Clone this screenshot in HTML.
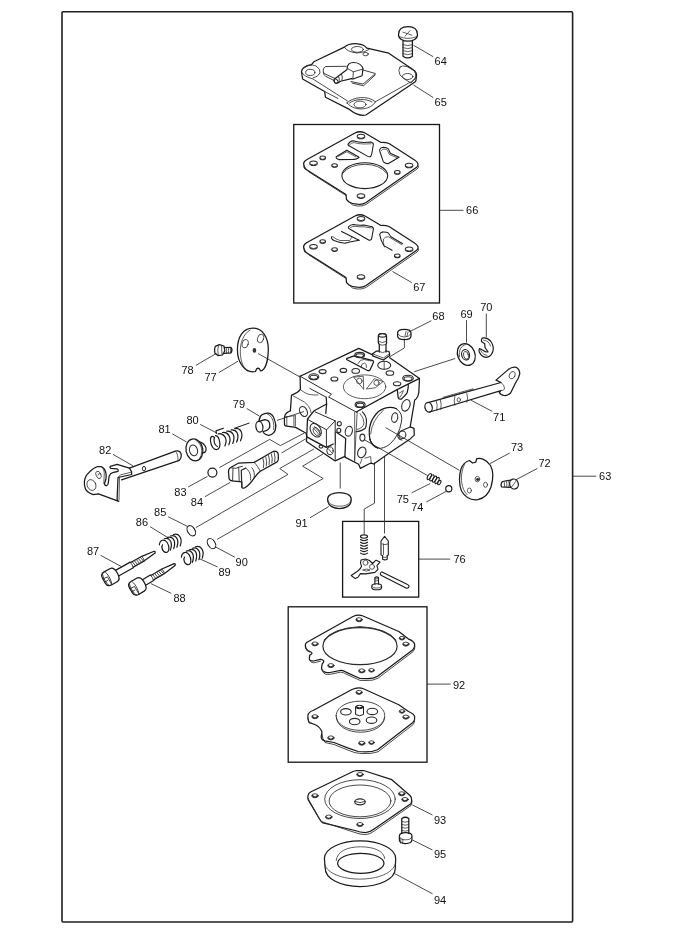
<!DOCTYPE html>
<html><head><meta charset="utf-8"><style>
html,body{margin:0;padding:0;background:#fff;width:680px;height:935px;overflow:hidden}
svg{display:block}
text{font-family:"Liberation Sans",sans-serif;font-size:11px;fill:#111}
.lbl{will-change:transform}
</style></head><body>
<svg width="680" height="935" viewBox="0 0 680 935">
<g fill="none" stroke="#1e1e1e" stroke-width="1.6" stroke-linejoin="round">
<rect x="62" y="11.7" width="510.6" height="910.3" rx="1"/>
</g>
<g fill="none" stroke="#151515" stroke-width="1.3">
<rect x="293.75" y="124.5" width="145.75" height="178.5"/>
<rect x="342.6" y="521.4" width="76.1" height="75.7"/>
<rect x="288.2" y="606.8" width="138.8" height="155.4"/>
</g>
<g fill="none" stroke="#2a2a2a" stroke-width="0.85">
<line x1="413.5" y1="45.3" x2="433.2" y2="56.7"/>
<line x1="413.5" y1="85" x2="433.2" y2="97.5"/>
<line x1="439.5" y1="210.3" x2="463.5" y2="210.3"/>
<line x1="392.5" y1="271.5" x2="411.8" y2="282.6"/>
<line x1="431.4" y1="320.7" x2="408.9" y2="332"/>
<line x1="466.5" y1="320.1" x2="466.5" y2="342.6"/>
<line x1="486.3" y1="313.5" x2="486.3" y2="337.3"/>
<line x1="455.2" y1="358.5" x2="414.2" y2="371.7"/>
<line x1="492.3" y1="411.4" x2="471.1" y2="400.3"/>
<line x1="537.4" y1="468.4" x2="514.9" y2="480.3"/>
<line x1="509.6" y1="453.1" x2="489.8" y2="463.7"/>
<line x1="385.6" y1="427.6" x2="459.4" y2="470.3"/>
<line x1="363.8" y1="439.4" x2="427.6" y2="475.6"/>
<line x1="411.7" y1="492.8" x2="430.3" y2="483.5"/>
<line x1="426.3" y1="502" x2="446.1" y2="491.4"/>
<line x1="418.7" y1="559.1" x2="450.2" y2="559.1"/>
<line x1="218.9" y1="372.5" x2="238" y2="361.2"/>
<line x1="258" y1="353.5" x2="300" y2="377"/>
<line x1="195.8" y1="365.4" x2="216.3" y2="353.5"/>
<line x1="246.7" y1="408.5" x2="259.4" y2="416.1"/>
<line x1="277.1" y1="420.4" x2="303.9" y2="411.5"/>
<line x1="200.2" y1="424.4" x2="216.4" y2="432.8"/>
<line x1="172.3" y1="433.8" x2="186.6" y2="442"/>
<line x1="113" y1="454.4" x2="133.1" y2="465.9"/>
<line x1="188.1" y1="487" x2="207.5" y2="476.4"/>
<line x1="205.1" y1="496.6" x2="230.2" y2="482.4"/>
<line x1="168.1" y1="516.7" x2="187.1" y2="526.2"/>
<line x1="150.1" y1="526.7" x2="167.3" y2="537.3"/>
<line x1="100.6" y1="555.3" x2="121" y2="566.4"/>
<line x1="171.3" y1="593.4" x2="150.9" y2="583.6"/>
<line x1="217.6" y1="567" x2="199" y2="558.5"/>
<line x1="234.8" y1="557.2" x2="214.9" y2="546.6"/>
<line x1="310" y1="517.8" x2="328.8" y2="506.5"/>
<line x1="427" y1="684.1" x2="450.6" y2="684.1"/>
<line x1="432.5" y1="815" x2="412.5" y2="805"/>
<line x1="432.5" y1="893.75" x2="395" y2="873.75"/>
<line x1="432.5" y1="850" x2="412.5" y2="840"/>
<line x1="572.6" y1="476.2" x2="596.3" y2="476.2"/>
<line x1="281.5" y1="453" x2="305.6" y2="438.9"/>
<line x1="340.2" y1="462.6" x2="340.2" y2="488.5"/>
<polyline points="219.4,467.6 269.7,439.4 280.3,445.6 304.4,433"/>
<polyline points="195.9,527.6 288,474.4 279.7,468.5 313.8,449.1"/>
<polyline points="217.1,539.4 323.2,478.5 302.6,466.2 323.2,453.8"/>
<polyline points="404.4,338.7 404.4,347.9 389.1,357.2"/>
<polyline points="374.5,462.5 374.5,503.2 364.2,509.1 364.2,534"/>
<polyline points="384.5,456 384.5,533.5"/>
</g>
<style>.o{fill:none;stroke:#1a1a1a;stroke-width:1.25;stroke-linejoin:round;stroke-linecap:round}.t{fill:none;stroke:#2a2a2a;stroke-width:0.75;stroke-linecap:round}.w{fill:#fff}</style><g transform="translate(0 1.2)"><!-- 64 screw -->
<g class="o">
<path d="M398.5,33.5 C398.5,27.5 403,25.5 408,25.5 C413,25.5 417.5,27.5 417.5,33.5 C417.5,37.5 413,40 408,40 C403,40 398.5,37.5 398.5,33.5 Z"/>
<path d="M403,40 L403,55 Q407.7,58.5 412.4,55 L412.4,40"/>
</g>
<g class="t">
<path d="M399.5,35.5 Q408,39 416.5,35.5"/>
<path d="M403,31 L412,34 M405,35 L410,29.5"/>
<path d="M403,43.5 Q407.7,45.5 412.4,43.5 M403,46.5 Q407.7,48.5 412.4,46.5 M403,49.5 Q407.7,51.5 412.4,49.5 M403,52.5 Q407.7,54.5 412.4,52.5"/>
</g>
</g>
<!-- 65 cover -->
<g class="o">
<path d="M301.5,71.8 C302,67.5 306,65.5 311.5,64.7 L313.8,61.8 L344.4,47.1 C348,44 353,43.5 357.4,43.8 C362,44.2 365.5,46 366.8,48.2 L370.3,48.8 L388.7,53.2 L398.8,60 L412.9,69.4 C416,71.5 416.8,74 416.5,76 L415.9,80.6 L415.3,81.8 L365.9,115 C361,116 354,113 349.4,109.4 L325.5,97.3 L324.6,91.5 L302.6,79 Z"/>
</g>
<g class="t" style="stroke-width:0.85">
<path d="M301.5,71.8 C303,75.5 308,77.5 312.6,78.8 L347.5,101"/>
<path d="M375.3,101.8 L408.8,83 C412,82 415,79 416.5,76"/>
<path d="M347,103 C352,97 368,95 375.3,101.8 C372,109 356,113 347,103 Z"/>
<path d="M349.5,103 C354,99 366,98 372,102"/>
<path d="M400,67 Q402,65 407,66.5 L413,70 Q417,73 415,79 L411,83 Q405,80 400,75 Q397.5,70 400,67 Z"/>
<path d="M304.4,68 C306,65.5 312,64 316,66 Q321,69 320,73 Q318,77 313,78"/>
<path d="M344.4,47.1 Q347,52 357,53 Q365,52.5 369,49.5"/>
<path d="M324.6,91.5 L338,98.5"/>

<ellipse cx="310.3" cy="72.4" rx="4.6" ry="3.1"/>
<ellipse cx="407.6" cy="76.5" rx="5.3" ry="3"/>
<ellipse cx="360" cy="104.5" rx="6" ry="3.4"/>
<ellipse cx="357.4" cy="49.4" rx="6" ry="2.9"/>
<ellipse cx="365.6" cy="54.1" rx="2.7" ry="1.7"/>
</g>
<g class="t" style="stroke-width:0.9">
<path d="M346.2,66.3 L325.9,66.5 C322.5,67.5 322.5,72.5 325.1,74 L334.8,78.4"/>
<path d="M323.3,72 C323.3,75 325,76 327,77 L334,80.5"/>
<path d="M363,70 L375.4,73.5 L363,84.1 L351,81.5 M375.4,74.8 L363.5,85.8 L352,83"/>
</g>
<g class="o" style="stroke-width:1.15">
<path d="M347.1,68.2 C347.5,64.5 350,62.5 353.3,62.5 C358,62.5 362,65 363,68.6 L362.1,75.7 L352.9,79 L351.5,78.6"/>
<path d="M347.1,69.5 L335.5,78.3 C333.5,79.8 333.8,83.5 336.2,83.4 C337.5,83.5 338.5,82.8 340.5,81.3 L351.5,78.6"/>
</g>
<g class="t" style="stroke-width:0.85">
<path d="M347.1,68.2 L353.3,71.8 L363,69.1 M353.3,71.8 L352.9,79"/>
<path d="M338.5,76.2 Q340,79 339,82 M341.5,74 Q343,77 342,80.3"/>
<ellipse cx="335.8" cy="81" rx="1.8" ry="2.4" transform="rotate(-35 335.8 81)"/>
</g>

<!-- 66 -->
<g class="o">
<path d="M304,165.5 Q302.5,162 307,159.5 L355,133 Q360,130.5 365,133 L381,142.5 Q385,142 389,143.5 L414.5,160 Q420,163.5 417,167 L366,202.5 Q362,205 357,204 Q352,204 349,202 L346.5,199.5 L346,194.5 L307,170 Q303.5,168 304,165.5 Z"/>
</g>
<g class="t" style="stroke-width:0.85">
<path d="M304,165.5 Q305,169.5 309,172 L346,195.5 M349,202 Q352,206 357,206 Q362,206.5 366,204.5 L417,169 Q419,168 418.5,166"/>
<ellipse cx="361" cy="136.5" rx="3.8" ry="2.3" style="stroke-width:1.05"/>
<ellipse cx="313.5" cy="163.2" rx="3.8" ry="2.3" style="stroke-width:1.05"/>
<ellipse cx="409.1" cy="165.5" rx="3.8" ry="2.3" style="stroke-width:1.05"/>
<ellipse cx="361" cy="196.1" rx="3.8" ry="2.3" style="stroke-width:1.05"/>
<path d="M358,137.5 Q361,139.5 364,137.5 M310.5,164.2 Q313.5,166.2 316.5,164.2 M406.1,166.5 Q409.1,168.5 412.1,166.5 M358,197.1 Q361,199.1 364,197.1"/>
<ellipse cx="322.7" cy="157.9" rx="2.8" ry="1.8" style="stroke-width:1.05"/>
<ellipse cx="334.6" cy="165.5" rx="2.8" ry="1.8" style="stroke-width:1.05"/>
<ellipse cx="397.3" cy="172.4" rx="2.8" ry="1.8" style="stroke-width:1.05"/>
<path d="M320.2,158.6 Q322.7,160.3 325.2,158.6 M332.1,166.2 Q334.6,167.9 337.1,166.2 M394.8,173.1 Q397.3,174.8 399.8,173.1"/>
<path d="M343,173 Q350,164.5 364.8,164.3 Q379.5,164.5 386.5,173"/>
</g>
<g class="o" style="stroke-width:1.05">
<ellipse cx="364.8" cy="175.7" rx="22.9" ry="12.9"/>
<path d="M347.9,144.4 Q350,141 353.2,140.8 Q358,142.5 363.8,142.6 L370.9,142 Q374,143 373.2,145.5 L372.1,152 Q371.5,156 370.3,156.7 Q368.5,157 367.4,156.1 L348.5,145.5 Z"/>
<path d="M336.2,156.7 L346.8,150.2 L359.1,157.3 Q357,159.5 352.1,159.6 L339.1,159.6 Q335.5,158.5 336.2,156.7 Z"/>
<path d="M379.7,149.6 Q380.5,147.5 383.2,147.3 Q387,147.3 388.5,149.1 L390.3,153.2 L399.1,157.3 L388,163.8 Q384,163 383.2,161.4 L379.7,151 Z"/>
</g>
<g class="t" style="stroke-width:0.7">
<path d="M349.5,144.8 Q352,142.5 354,142.6 Q359,144 364,144 L371,143.8 M338.5,156.3 L346.8,151.8 L356,157 M381.5,150.5 Q382,149 384,149 Q386.5,149 387.5,150.5 L389.5,154.5 L397,157.8"/>
</g>
<!-- 67 -->
<g class="o">
<path d="M304,248.5 Q302.5,245 307,242.5 L355,216 Q360,213.5 365,216 L381,225.5 Q385,225 389,226.5 L414.5,243 Q420,246.5 417,250 L366,285.5 Q362,288 357,287 Q352,287 349,285 L346.5,282.5 L346,277.5 L307,253 Q303.5,251 304,248.5 Z"/>
</g>
<g class="t" style="stroke-width:0.85">
<path d="M304,248.5 Q305,252.5 309,255 L346,278.5 M349,285 Q352,289 357,289 Q362,289.5 366,287.5 L417,252 Q419,251 418.5,249"/>
<ellipse cx="361" cy="218.8" rx="3.8" ry="2.3" style="stroke-width:1.05"/>
<ellipse cx="313.5" cy="246.7" rx="3.8" ry="2.3" style="stroke-width:1.05"/>
<ellipse cx="409.1" cy="249.2" rx="3.8" ry="2.3" style="stroke-width:1.05"/>
<ellipse cx="361" cy="277" rx="3.8" ry="2.3" style="stroke-width:1.05"/>
<path d="M358,219.8 Q361,221.8 364,219.8 M310.5,247.7 Q313.5,249.7 316.5,247.7 M406.1,250.2 Q409.1,252.2 412.1,250.2 M358,278 Q361,280 364,278"/>
<ellipse cx="322.7" cy="241.5" rx="2.8" ry="1.8" style="stroke-width:1.05"/>
<ellipse cx="334.6" cy="249.6" rx="2.8" ry="1.8" style="stroke-width:1.05"/>
<ellipse cx="397.3" cy="255.9" rx="2.8" ry="1.8" style="stroke-width:1.05"/>
<path d="M320.2,242.2 Q322.7,243.9 325.2,242.2 M332.1,250.3 Q334.6,252 337.1,250.3 M394.8,256.6 Q397.3,258.3 399.8,256.6"/>
</g>
<g class="o" style="stroke-width:1.05">
<path d="M348.5,226.8 Q350.5,224.5 353.2,224.4 Q358,225.5 363.8,225 L372.1,226.8 Q374,228 373.2,230.3 L371.5,239.1 Q370.5,240.5 369.1,240.3 L350.9,229.7 Q347.5,228 348.5,226.8 Z"/>
<path d="M341.5,231.5 L359.1,240.3"/>
<path d="M331.5,236.8 Q331,239 334,240.5 Q339,242.5 345,243.2 L349.7,242 L359.1,240.3"/>
<path d="M382.6,232.1 Q380,232.5 379.7,234.4 Q380.5,240 383.8,245.6 L392.1,250.3"/>
<path d="M382.6,232.1 Q387,232 388.5,233.2 L390.9,236.8 L402.6,243.8"/>
</g>
<g class="t" style="stroke-width:0.75">
<path d="M350.5,227.5 Q353,226 355,226.3 Q359,227 364,226.8 L371.5,228"/>
<path d="M332.5,236.5 Q336,239.5 340,240.5 L349.7,240.5 Q351,238.5 352,237"/>
<path d="M384.5,247 Q382.5,242 383.5,239 Q385,236.5 388.5,236.8 L401.5,244.5"/>
</g>

<!-- carburetor body -->
<g class="o">
<!-- top face outline -->
<path d="M300.1,376.2 L358.8,348.4 L372.1,354.6"/>
<path d="M389.7,357.7 L419.5,378.4 L397.1,389.6 L356.2,412"/>
<!-- right edge -->
<path d="M419.5,378.4 L418.8,392.5 Q418,398 414.7,400 L410.2,426.9 L414,428.4 L414.3,435.1 L410.2,438.9 L390,452.5 L373.7,464 L371,463.1 L368.8,464 L360.4,468.4 L359.1,465.3 L358.2,464 L345.4,457.4 L344.9,456.4 L335.2,460.9 L306.4,441.4 L306.7,436.9 L307.5,419 L314.2,410.7 L326.6,404 L326.2,397.2"/>
<!-- left silhouette -->
<path d="M300.1,376.2 L300.4,389.1 Q298,393 291.5,395 L290.4,410.9 Q286,412.5 284.9,415.5 L284.4,418 L284.5,425 Q285.5,426 286.8,426.2 L295.6,427.4 L306.2,433.2 L306.7,436.9"/>
<path d="M326.6,404 L325.8,413.3"/>
<path d="M306.7,436.9 L326.2,447.4 L333.3,444"/>
<path d="M336.7,432.4 L345.7,438.4 L344.9,456.4"/>
<!-- throat -->
<path d="M370,439.5 Q366.5,423 378.5,411.5 Q388,405 396.5,408.8" style="stroke-width:1.25"/>
<path d="M396.5,408.8 Q403.5,413.5 401.3,422.5 Q399,435.5 390.5,443.5 Q383.5,449.5 377.5,448 Q372,446 370,439.5" style="stroke-width:0.9"/>
<path d="M370,439.5 Q372,446 377.5,448"/>
<!-- recess + tabs -->
<path d="M354,355.9 L373,360.7 Q374,361.5 373.2,363 L370,370 Q369,371 367.5,370.5 L347,359.8 Q346,359 347.2,358.3 Z"/>
<path d="M397.3,389.6 L398.2,397.7 Q399,399.5 401.2,399.2 Q406,395 407.2,392.5 Q408.5,388 408.3,384.6"/>
</g>
<g class="t" style="stroke-width:1">
<path d="M300.1,376.2 L331.5,394.2 L328.6,397 L330,397.8 L356.2,412"/>
<path d="M308.2,419.7 L326.6,429.8 L335.2,420.8 L314.97,411.8 M326.4,429.8 L326.4,446.8 M335.2,420.8 L335.2,459.4"/>
<path d="M310,388.5 L325.5,396.8"/>
</g>
<g class="t">
<path d="M300.5,389.7 Q305,393.5 309,394.4 Q314,395.3 318,395"/>
<path d="M292.7,395.6 L304.5,402.1 Q309,405.5 310.4,409.7 L311,412.6"/>
<ellipse cx="303.5" cy="411.5" rx="3.6" ry="5.3" transform="rotate(-25 303.5 411.5)" style="stroke-width:1.1"/>
<path d="M285.1,416.8 L295.6,415.6 M286.8,416.8 L286.8,425.6 M293.9,416.5 L293.9,425.8 M295.4,416.3 L295.4,426"/>
<ellipse cx="315.7" cy="430.2" rx="5" ry="7.3" transform="rotate(-30 315.7 430.2)" style="stroke-width:1.1"/>
<ellipse cx="316.5" cy="431.5" rx="2.8" ry="4.3" transform="rotate(-30 316.5 431.5)"/>
<path d="M313,427.5 L319.5,435 M314.5,426.5 L320.5,433.5"/>
<ellipse cx="330" cy="450.8" rx="3.2" ry="4" style="stroke-width:1"/>
<path d="M328,448.5 L332,453"/>
<ellipse cx="321" cy="446.6" rx="2" ry="1.5" style="stroke-width:1.1"/>
<ellipse cx="339.3" cy="423.7" rx="2" ry="2.2" style="stroke-width:1.1"/>
<ellipse cx="338.8" cy="430.4" rx="2" ry="2.2" style="stroke-width:1.1"/>
<path d="M354.7,412.5 L354.7,461.8"/>
<path d="M335.3,431.8 L335.5,444.5"/>
<!-- top face holes -->
<ellipse cx="364.6" cy="386.8" rx="21.2" ry="11.9"/>
<path d="M354,377.1 L363.2,376.2 L363.7,389 Z"/>
<path d="M374.7,378.8 L383.1,381.5 L375.6,387.7 L366.8,389 Z"/>
<circle cx="359.3" cy="381" r="2.8"/>
<circle cx="376.5" cy="382.8" r="2.6"/>
<ellipse cx="359.7" cy="355" rx="4.9" ry="2.6" style="stroke-width:1.1"/>
<ellipse cx="359.7" cy="355.6" rx="3.8" ry="1.8" style="stroke-width:1.1"/>
<ellipse cx="384.2" cy="365.3" rx="6.5" ry="4" style="stroke-width:1.1"/>
<path d="M384.2,361.5 L384.2,369"/>
<ellipse cx="343.4" cy="370.4" rx="3.3" ry="2" style="stroke-width:1.1"/>
<ellipse cx="355.7" cy="370.9" rx="3.8" ry="2.4" style="stroke-width:1.1"/>
<ellipse cx="389.9" cy="373" rx="3.8" ry="2.3" style="stroke-width:1.1"/>
<ellipse cx="408" cy="378.2" rx="5.3" ry="3" style="stroke-width:1.1"/>
<ellipse cx="408" cy="378.8" rx="4" ry="2" style="stroke-width:1.1"/>
<ellipse cx="397.1" cy="383.8" rx="3.7" ry="2" style="stroke-width:1.1"/>
<ellipse cx="360.1" cy="404.7" rx="5" ry="2.8" style="stroke-width:1.1"/>
<ellipse cx="360.1" cy="405.2" rx="3.8" ry="1.9" style="stroke-width:1.1"/>
<ellipse cx="313.8" cy="376.8" rx="5" ry="3" style="stroke-width:1.1"/>
<ellipse cx="313.8" cy="377.3" rx="3.8" ry="2" style="stroke-width:1.1"/>
<ellipse cx="322.6" cy="371.6" rx="3.5" ry="2" style="stroke-width:1.1"/>
<ellipse cx="334.4" cy="379" rx="3.5" ry="2" style="stroke-width:1.1"/>
<path d="M358,363.5 Q360,359 364,359.5 L371,361 M361,367 Q361,363.5 364.5,363 Q367,363.5 366.5,367.5"/>
<!-- right face details -->
<path d="M383.2,410.5 Q372,420 370.6,434" />
<ellipse cx="394.7" cy="417.6" rx="3" ry="4.8" transform="rotate(10 394.7 417.6)" style="stroke-width:1.05"/>
<path d="M362.4,411.8 Q366.5,416 366.5,421.2 Q366.5,426 365.3,428.2 Q362,431 355.9,431.8" style="stroke-width:1.15"/>
<path d="M360,413.5 Q364,418 364,423 Q363.5,428 357,429.5"/>
<path d="M357.2,411.8 L354.6,460.5"/>
<path d="M399.5,393 Q402.5,391 403.5,390.5 Q402,395 399.7,397.5"/>
<ellipse cx="348.8" cy="431.2" rx="3.5" ry="5" transform="rotate(15 348.8 431.2)" style="stroke-width:1.1"/>
<ellipse cx="362.4" cy="437.6" rx="2.5" ry="3.5" style="stroke-width:1.1"/>
<ellipse cx="361.8" cy="452.4" rx="4" ry="5.5" transform="rotate(20 361.8 452.4)" style="stroke-width:1.1"/>
<ellipse cx="405.9" cy="405.3" rx="4" ry="6" transform="rotate(20 405.9 405.3)" style="stroke-width:1.05"/>
<path d="M410.2,426.9 L401,431 Q397,434 398,437 Q399.5,440 402,440" style="stroke-width:1.1"/>
<ellipse cx="402.4" cy="434.7" rx="3.5" ry="3.8" style="stroke-width:1.05"/>
<path d="M364.9,458.2 L370.6,456.5 L371.2,463 M360,464 L362,459"/>
</g>
<g class="o">
<!-- fuel nipple -->
<path d="M379.3,351 L376.5,351 L372.6,353.8 L372.6,355.8 L383.4,360 L389.6,355.5 L389.6,353.8 L389,351.5 L386,351"/>
<path d="M379.3,352 L379.3,344.5 Q378,343 378.3,341.5 L378.3,336 Q378.5,333.5 382.4,333.5 Q386.3,333.5 386.5,336 L386.5,341.5 Q387,343 386,344.5 L386,352"/>
</g>
<g class="t">
<ellipse cx="382.4" cy="335.3" rx="3.8" ry="1.8" style="stroke-width:1.1"/>
<path d="M378.3,341.5 Q382.4,343.5 386.5,341.5 M379.3,344.5 Q382.4,346 386,344.5 M372.6,353.8 L383.4,358 L389.6,353.8 M379.3,351.5 Q382.5,354 386,351.5"/>
</g>
<!-- 68 cap -->
<g class="o">
<path d="M397.6,333 Q397.6,329.3 404.3,329.3 Q411,329.3 411,333 L411,336 Q411,339.6 404.3,339.6 Q397.6,339.6 397.6,336 Z"/>
</g>
<g class="t">
<path d="M397.8,334 Q400,337 404.3,337 Q409,337 410.8,334 M406,331.5 L405,336 M408,332 L407,336"/>
</g>

<!-- 77 plate -->
<g class="o">
<path d="M252.9,328.2 C262,328 268.5,337 268.3,350 C268,362 265,370 260.6,371 L259.5,369 Q258,367.5 256.5,369 L255.5,371.5 C245,374 237.4,362 237.4,350 C237.4,337 243,328.2 252.9,328.2 Z"/>
</g>
<g class="t">
<path d="M250,330 C243,334 240,344 240.3,352 C240.5,361 243,367 247,371"/>
<ellipse cx="245.2" cy="343.7" rx="3" ry="4.3" transform="rotate(15 245.2 343.7)"/>
<ellipse cx="260.6" cy="338.5" rx="3" ry="4.3" transform="rotate(15 260.6 338.5)"/>
</g>
<ellipse cx="254.4" cy="350.4" rx="1.8" ry="2.3" fill="#333"/>
<!-- 78 screw -->
<g class="o">
<path d="M215.3,346.3 L219.4,344.7 L224,346 L224.8,350.9 L222.5,355 L217.9,355.6 L214.8,353 Q214,349 215.3,346.3 Z"/>
<path d="M224.3,347.5 L231,347.4 Q233,350 231,352.9 L224.3,353.3"/>
</g>
<g class="t">
<path d="M218.5,345.3 Q217,350 218.3,355.3 M221.5,345.5 L222,354.5"/>
<path d="M226.2,347.5 Q227,350 226.5,353.2 M228.2,347.4 Q229,350 228.5,353.1 M230.2,347.4 Q231,350 230.5,353"/>
</g>
<!-- 79 -->
<g class="o">
<path d="M259,420.9 Q259.5,416.5 262,414.8 Q265,412.8 268.5,413.2 Q273,414 274.7,420.4 Q276.3,425 275.7,427.6 Q275.5,431 273.7,432.7 Q271.5,435.5 268.5,435.3 Q265.5,435 263.4,432.7"/>
<ellipse cx="259.4" cy="426.8" rx="3.5" ry="5.4" transform="rotate(-10 259.4 426.8)"/>
<path d="M259.3,421.4 L264.9,419.6 Q269,420 269.6,423.4 Q270.3,427 269,428.6 Q267,431 262.9,431.7"/>
</g>
<g class="t">
<path d="M267,413.7 Q272,416 273.2,421.4 Q274.3,425.5 273.7,429.6"/>
</g>
<!-- 80 spring -->
<g class="o" style="stroke-width:1.2"><path d="M216.4,433.4 L216,430.9 L223.4,428.3"/><path d="M234.4,428.3 L249.1,423.1" style="stroke-width:1"/><path d="M214.5,437.5 C212,435 210,437 210.5,441 C211,446 213.5,449.8 216.5,449.6 C219.5,449.4 220.3,446 219.8,442.5 C219.3,438.5 217.5,435.8 215.5,435.6"/><path d="M214.2,438 C213.5,441 214.5,445 217.3,446.5"/><path d="M218.2,433.8 C223.2,433.0 228.4,438.0 224.9,446.0"/><path d="M222.5,432.5 C227.5,431.7 232.3,436.7 228.8,444.7"/><path d="M226.8,431.2 C231.8,430.4 236.2,435.4 232.7,443.4"/><path d="M231.1,429.9 C236.1,429.1 240.1,434.1 236.6,442.1"/><path d="M235.4,428.6 C240.4,427.8 244.0,432.8 240.5,440.8"/></g>
<!-- 81 -->
<g class="o">
<ellipse cx="194.4" cy="449.9" rx="8.4" ry="11" transform="rotate(-12 194.4 449.9)"/>
<path d="M199.4,441.8 Q204,442.5 205.9,447.6 Q206.5,450.5 205.3,451.8 Q204,453 202.9,452.9"/>
</g>
<g class="t">
<ellipse cx="193.5" cy="450.4" rx="4" ry="5.5" transform="rotate(-15 193.5 450.4)" style="stroke-width:1"/>
<path d="M195.5,440 Q201,443.5 201.8,450 Q202,456 199,459.5"/>
</g>
<!-- 82 shaft lever -->
<g class="o">
<path d="M129.4,468.2 L175.4,451.2 Q179.5,450 181,453.5 Q182,457.5 179.3,460.3 L121.5,479.9"/>
<path d="M84.4,481.5 C85,477 86.5,474.5 88.8,472.7 C91.5,469.5 94.5,467.5 97.7,466.5 L101.2,466.5 C103.5,467.5 105,469.5 105.6,471.8 C106.5,474.5 106.3,477 106,479 L104.5,483.5 C104.5,485 105.5,485.8 106.5,485.6 C107.8,485.3 108.2,484 108.3,483 L109.1,476.2 C110,474 111,473 112.7,472.7 L118,471.3 C118.5,470 118,469 117,468.8 L111,468.4 C110,468 109.8,467 110.3,466.3 L117.1,464.3 L129.4,468.2 L131.5,471.5 L131.7,474.5 L118,477.5 L117.1,499.1 C117.5,500.5 118,501.3 118.8,501.3 L98.5,493.8 L93.2,494.7 C89,493 86,491 85.3,488.5 C84.5,486 84.2,484 84.4,481.5 Z"/>
</g>
<g class="t">
<ellipse cx="91.5" cy="485" rx="4.3" ry="5.6" transform="rotate(-25 91.5 485)"/>
<ellipse cx="98.5" cy="474.9" rx="2.4" ry="3.9" transform="rotate(-25 98.5 474.9)"/>
<path d="M98,475 Q98.5,473 99.5,473.5"/>
<path d="M101.2,466.5 C103,468 104,470 104.3,473 L103.8,483.5"/>
<path d="M119.5,477.3 L119,500 M118.5,476.5 Q120,474.5 124,474 L131.7,472"/>
<path d="M175.4,451.2 Q178.5,454 178,460.8"/>
<ellipse cx="144" cy="468.6" rx="1.6" ry="2.3" style="stroke-width:1"/>
</g>
<!-- 83 ball -->
<circle class="o" cx="212.4" cy="472.6" r="4.5" style="stroke-width:1.2"/>
<!-- 84 screw -->
<g class="o">
<path d="M228.5,472.1 C228.5,469.5 229,468.3 230.3,467.7 L238.2,463.2 L254.1,462.4 L273.5,451.3 C276.5,450.5 278.3,452.5 278.3,455 L278.3,459.5 C278,461.3 277,462 276.2,462.4 L260.3,471.2 C257,473.5 255.5,476 254.1,478.2 C251.5,482 248.5,486 244.4,488 C243,488.5 242,488 241.8,487.1 L241.8,481.8 L232.1,480.9 C230.3,480.3 229,479.5 229,478.2 Z"/>
</g>
<g class="t" style="stroke-width:0.85">
<path d="M241.3,470.3 L245.7,468.1 M241.3,470.3 L241.8,487.1" style="stroke-width:1.2"/>
<path d="M233,468.5 L232.6,480.9 M238.7,467.2 L239.2,481.5 M230.3,467.7 L236,468.3 L238.7,467.2 L242.5,466.3" style="stroke-width:0.9"/>
<path d="M251.9,467.7 C254,470 255,474 254.1,478.2 M245.7,468.1 C249,470 251.5,475 250.5,480"/>
<path d="M254.1,462.4 C256.5,464.5 258.5,468 260.3,471.2"/>
<path d="M263,458.5 Q264.5,463 263.5,467.5 M265.8,457 Q267.3,461.5 266.3,466 M268.6,455.5 Q270.1,460 269.1,464.5 M271.4,454 Q272.9,458.5 271.9,463 M274.2,452.5 Q275.7,457 274.7,461.5"/>
</g>

<!-- 85 o-ring -->
<ellipse class="o" cx="191.3" cy="530.8" rx="3.6" ry="5.6" transform="rotate(-32 191.3 530.8)" style="stroke-width:1.1"/>
<!-- 90 o-ring -->
<ellipse class="o" cx="211.5" cy="543.6" rx="3.6" ry="5.6" transform="rotate(-32 211.5 543.6)" style="stroke-width:1.1"/>
<!-- 86 spring -->
<g class="o" style="stroke-width:1.2"><path d="M159.4,544.8 C159.8,539.5 164.5,538.8 167.2,542.5 C169.8,546.5 169.5,552.8 165.8,552.4 C162.0,551.8 161.3,546.5 162.5,544.8"/><path d="M164.3,538.8 C168.8,537.3 173.4,541.1 170.4,550.1"/><path d="M167.4,537.4 C171.9,535.9 176.7,539.7 173.7,548.7"/><path d="M170.4,536.0 C174.9,534.5 179.9,538.3 176.9,547.3"/><path d="M173.5,534.5 C178.0,533.0 183.2,536.9 180.2,545.9"/></g>
<!-- 89 spring -->
<g class="o" style="stroke-width:1.2"><path d="M181.4,557.1 C181.8,551.8 186.5,551.1 189.2,554.8 C191.8,558.8 191.5,565.1 187.8,564.7 C184.0,564.1 183.3,558.8 184.5,557.1"/><path d="M186.3,551.1 C190.8,549.6 195.4,553.4 192.4,562.4"/><path d="M189.4,549.7 C193.9,548.2 198.7,552.0 195.7,561.0"/><path d="M192.4,548.3 C196.9,546.8 201.9,550.6 198.9,559.6"/><path d="M195.5,546.8 C200.0,545.3 205.2,549.2 202.2,558.2"/></g>
<!-- 87 screw -->
<g transform="translate(110.8 576.7) rotate(-29.3)">
<g class="o">
<path d="M-8,-3 C-8,-6.5 -6,-7.5 -3,-7.5 L3,-7.5 C6,-7.5 7.5,-5 7.5,0 C7.5,5 6,7.5 3,7.5 L-3,7.5 C-6,7.5 -8,6.5 -8,3 Z"/>
<path d="M7.2,-3.2 L24,-3.2 L24.8,-2.6 L37,-2.6 L50.2,-1 Q51.6,0 50.2,1 L37,2.6 L24.8,2.6 L24,3.2 L7.2,3.2"/>
</g>
<g class="t" style="stroke-width:0.8">
<path d="M-5.5,-7.3 C-7.5,-4 -7.5,4 -5.5,7.3"/>
<path d="M-8,-1.8 L-3,-1.5 L-3,7.3 M-8,1.8 L-4.5,1.8"/>
<path d="M-3,-7.5 C-1,-5 -1,3 -3,7.5"/>
<path d="M24,-3.2 Q25,0 24,3.2"/>
<path d="M26.0,-2.6 L27.0,2.6"/><path d="M28.3,-2.6 L29.3,2.6"/><path d="M30.6,-2.6 L31.6,2.6"/><path d="M32.9,-2.6 L33.9,2.6"/><path d="M35.2,-2.6 L36.2,2.6"/>
<path d="M37,-2.6 Q37.8,0 37,2.6"/>
</g>
</g>
<!-- 88 screw -->
<g transform="translate(137.8 586.2) rotate(-30.5)">
<g class="o">
<path d="M-8,-3 C-8,-6.5 -6,-7.5 -3,-7.5 L3,-7.5 C6,-7.5 7.5,-5 7.5,0 C7.5,5 6,7.5 3,7.5 L-3,7.5 C-6,7.5 -8,6.5 -8,3 Z"/>
<path d="M7.2,-3.2 L16.5,-3.2 L17.3,-2.6 L29.5,-2.6 L42.7,-1 Q44.1,0 42.7,1 L29.5,2.6 L17.3,2.6 L16.5,3.2 L7.2,3.2"/>
</g>
<g class="t" style="stroke-width:0.8">
<path d="M-5.5,-7.3 C-7.5,-4 -7.5,4 -5.5,7.3"/>
<path d="M-8,-1.8 L-3,-1.5 L-3,7.3 M-8,1.8 L-4.5,1.8"/>
<path d="M-3,-7.5 C-1,-5 -1,3 -3,7.5"/>
<path d="M16.5,-3.2 Q17.5,0 16.5,3.2"/>
<path d="M18.5,-2.6 L19.5,2.6"/><path d="M20.8,-2.6 L21.8,2.6"/><path d="M23.1,-2.6 L24.1,2.6"/><path d="M25.4,-2.6 L26.4,2.6"/><path d="M27.7,-2.6 L28.7,2.6"/>
<path d="M29.5,-2.6 Q30.3,0 29.5,2.6"/>
</g>
</g>
<!-- 91 disc -->
<g class="o">
<path d="M327.6,499.1 C327.6,495 333,492.5 339.4,492.5 C345.8,492.5 351.2,495 351.2,499.1 L351,501.5 C350.5,505.8 345.5,508.5 339.4,508.5 C333.5,508.5 328.5,505.8 327.8,501.5 Z"/>
</g>
<g class="t"><path d="M327.8,500 C328.5,504 333.5,506.2 339.4,506.2 C345.5,506.2 350.5,504 351.1,500"/></g>

<!-- 69 washer -->
<g class="o">
<ellipse cx="466.3" cy="354.5" rx="8.6" ry="11.2" transform="rotate(-22 466.3 354.5)"/>
<ellipse cx="465.6" cy="354.8" rx="3.9" ry="5.3" transform="rotate(-15 465.6 354.8)" style="stroke-width:1.1"/>
</g>
<g class="t">
<path d="M459.5,357 C458.5,350 461,345.5 466,344.5"/>
<ellipse cx="466" cy="355.3" rx="2.4" ry="4" transform="rotate(-15 466 355.3)"/>
</g>
<!-- 70 e-clip -->
<g class="o" style="stroke-width:1.2">
<path d="M482.3,338 Q487,337 490.5,341 Q494.5,346.5 492.8,351.5 Q491,357 486,357.3 Q481.5,357 479.3,352 Q478.5,350 479.5,348.5 L483.5,350.5 Q485.5,352.5 488,351.8 L485,347.5 L484.7,343.7 L481.5,341.5 Q481,339.5 482.3,338 Z"/>
</g>
<g class="t">
<path d="M483.5,340 Q489,340.5 490.5,346 M480.5,350 Q482.5,355 487,355.3"/>
</g>
<!-- 71 shaft -->
<g class="o">
<path d="M428.9,402.3 L501,382.5 L496,380.1 L508.2,369.6 Q512,366.5 515.5,367.2 Q519.5,368.5 519.8,373.6 Q519,378 516,382 L510.6,393 Q507,396 504.1,395.5 Q500.5,395 499.3,392.2 L500.9,390.6 L429.7,412"/>
<ellipse cx="428.6" cy="407.3" rx="3.6" ry="4.9" transform="rotate(-15 428.6 407.3)"/>
</g>
<g class="t">
<path d="M501,382.5 Q505,385 504.5,389 Q503,391 500.9,390.6"/>
<ellipse cx="512.2" cy="375.2" rx="2.7" ry="3.8" transform="rotate(25 512.2 375.2)"/>
<path d="M436.2,400.5 Q438,405 436.8,410.5 M440.2,399.5 Q442,404 440.8,409.5"/>
<path d="M454.8,396.5 Q453.5,401 454.8,405.3 M466.9,393.5 Q468.5,398 466.9,402.3"/>
<ellipse cx="458.8" cy="399.8" rx="1.7" ry="2"/>
<path d="M442.7,398.5 L473.4,389.8 M443,397.3 L473,388.8"/>
</g>
<!-- 73 plate -->
<g class="o">
<path d="M469.4,460.5 L472.6,463 L475.8,462.1 L476.6,458.9 C480,457 487,460 490.5,465.5 C493.5,471 493,480 491,487 C489,493 485.5,498 478,499.6 C471,500.5 465,497 461.5,491 C458.8,485 459,475 461,469 C462.5,465 465.5,461.5 469.4,460.5 Z"/>
</g>
<g class="t">
<path d="M464.5,464.6 C461.5,470 461,478 461.7,482.4 C462.5,488 464,491.5 466.9,494.5"/>
<ellipse cx="469.4" cy="490.5" rx="2" ry="2.5"/>
<ellipse cx="485.5" cy="484.8" rx="2" ry="2.5"/>
<ellipse cx="477.4" cy="479.1" rx="2.3" ry="2.8"/>
</g>
<circle cx="477.6" cy="479.5" r="1.4" fill="#222"/>
<!-- 72 screw -->
<g class="o">
<ellipse cx="514" cy="484" rx="4.3" ry="5" transform="rotate(-15 514 484)"/>
<path d="M511,480 L502.5,481.5 Q500.3,483.5 501.5,486.8 L510.5,487.3"/>
</g>
<g class="t">
<path d="M511.5,487 L516.5,480.5 M504,481.5 Q505,484 504.5,486.8 M506.3,481 Q507.3,483.8 506.8,486.6 M508.6,480.6 Q509.6,483.5 509,487"/>
</g>
<!-- 75 spring -->
<g class="o" style="stroke-width:1.05">
<ellipse cx="429.3" cy="476.6" rx="1.5" ry="3.4" transform="rotate(30 429.3 476.6)"/>
<ellipse cx="431.9" cy="477.9" rx="1.5" ry="3.4" transform="rotate(30 431.9 477.9)"/>
<ellipse cx="434.5" cy="479.2" rx="1.5" ry="3.4" transform="rotate(30 434.5 479.2)"/>
<ellipse cx="437.1" cy="480.5" rx="1.5" ry="3.4" transform="rotate(30 437.1 480.5)"/>
<ellipse cx="439.3" cy="482.6" rx="1.3" ry="2.4" transform="rotate(30 439.3 482.6)"/>
</g>
<!-- 74 ball -->
<circle class="o" cx="448.8" cy="488.8" r="3.1" style="stroke-width:1.15"/>

<!-- 76 contents -->
<g class="o" style="stroke-width:1.1">
<ellipse cx="364" cy="536.6" rx="3.5" ry="1.7"/>
<path d="M360.5,539.5 Q364,542 367.6,539.5 M360.5,542.2 Q364,544.7 367.6,542.2 M360.5,545 Q364,547.5 367.6,545 M360.5,547.7 Q364,550.2 367.6,547.7 M360.5,550.4 Q364,552.9 367.6,550.4 M360.5,553.1 Q364,555.6 367.6,553.1"/>
<path d="M384.6,536.3 L381,541 L381,555 L382.6,555.5 L382.6,559.3 Q385,560.5 387.2,559.3 L387.2,555.5 L388.3,555 L388.3,541 Z"/>
<path d="M380.8,572.5 Q379.5,574 381,575.3 L406.5,588.2 Q408.5,588.5 409,586.5 Q409,585 407.5,584.5 L382,572 Q381,571.8 380.8,572.5 Z"/>
<path d="M351.2,575.5 L355.3,578.6 L358,577.3 L360.4,573.6 L365.6,573.9 L374.9,572.4 L378,569.3 L376.9,565.7 L380,562.1 L376,560.2 L372.5,563.5 L369.5,560.5 L365.5,559 L361,560 Q359.8,563 361.5,566.2 Q360.5,569 358.5,570.5 Z"/>
<path d="M374.9,584 L374.9,577.5 Q376.7,576.3 378.5,577.5 L378.5,584"/><path d="M371.8,586 C371.8,584.5 374,583.8 376.7,583.8 C379.4,583.8 381.6,584.5 381.6,586 L381.6,587.5 C381.6,589 379.4,589.8 376.7,589.8 C374,589.8 371.8,589 371.8,587.5 Z"/>
</g>
<g class="t">
<path d="M382,544 Q385,545.5 388,544 M383.5,544 L383.5,554.5 M382.6,557 Q385,558 387.2,557"/>
<ellipse cx="365.5" cy="562.8" rx="2.5" ry="2.5"/>
<ellipse cx="372" cy="566.8" rx="2.5" ry="2.5"/>
<path d="M363,570 Q367,568 370,570 Q366,572.5 363,570 Z"/>
<path d="M375,579 L378.5,578.5 M375,581 L378.5,580.5 M371.9,586.3 C372.5,587.5 374.5,588 376.7,588 C379,588 381,587.5 381.5,586.3"/>
</g>

<!-- 92a gasket -->
<g class="o">
<path d="M306.6,642.5 L353,616.5 Q358.2,614 363,616 L398.8,631.5 L408.5,639.1 Q414,641 414.7,644.4 Q415,647.5 412.9,649.7 L377.6,676.2 Q373,679 366,678.6 L360,678.5 L345.9,672.1 Q343,670 340.6,670.3 L330,672.5 Q326,673 324.7,672.1 Q321,670 321.6,667.5 L322.1,664.1 Q324.5,661.5 323.4,660.6 Q322,659 320.3,659.3 L313.2,661 Q309.5,661 309.3,658.8 L309.7,655.3 Q312.5,653.5 311.9,653.1 Q311.5,651.8 308,650.5 Q305.3,649 305.3,645.6 Q305.3,643.5 306.6,642.5 Z"/>
</g>
<g class="t" style="stroke-width:0.85">
<path d="M305.5,647.5 Q306,651 309.5,652.3 M309.5,660 Q310.5,662.8 313.5,662.8 L320.5,661.2 M321.8,669 Q322.5,673 325,674 Q327,674.8 330,674.3 L340.6,672.2 Q343,672 345.9,674 L360,680.4 L366,680.5 Q373,681 378,678.2 L413,651.7 Q415,650 414.9,646.5"/>
<ellipse cx="360" cy="646.2" rx="37.1" ry="18.5" style="stroke-width:1.2"/>
<path d="M324,640 Q332,628.5 360,626.5 Q388,628.5 396,640"/>
<ellipse cx="359.1" cy="619.7" rx="3.2" ry="2"/><path d="M356.5,619.5 Q359.1,622.7 361.7,619.5" style="stroke-width:1.3"/>
<ellipse cx="315" cy="643.9" rx="3.2" ry="2"/><path d="M312.4,643.7 Q315.0,646.9 317.6,643.7" style="stroke-width:1.3"/>
<ellipse cx="405.9" cy="644.1" rx="3.2" ry="2"/><path d="M403.3,643.9 Q405.9,647.1 408.5,643.9" style="stroke-width:1.3"/>
<ellipse cx="402" cy="638.2" rx="2.8" ry="1.8"/><path d="M399.8,638.0 Q402.0,640.9 404.2,638.0" style="stroke-width:1.3"/>
<ellipse cx="361.8" cy="670.9" rx="3.2" ry="2"/><path d="M359.2,670.7 Q361.8,673.9 364.4,670.7" style="stroke-width:1.3"/>
<ellipse cx="371.5" cy="670.3" rx="2.8" ry="1.8"/><path d="M369.3,670.1 Q371.5,673.0 373.7,670.1" style="stroke-width:1.3"/>
<ellipse cx="330.9" cy="665.6" rx="3.2" ry="2"/><path d="M328.3,665.4 Q330.9,668.6 333.5,665.4" style="stroke-width:1.3"/>
</g>
<!-- 92b diaphragm -->
<g class="o">
<path d="M307.9,715.3 Q308.5,712 313,710.5 L352,689.5 Q358.2,686.5 364,689 L398.8,704.8 L408.5,711.5 Q414.5,714 414.7,717.1 Q415,720.5 412.9,722.5 L377.6,749.7 Q370,753 358.2,751.5 L347.6,747.9 L334,742.5 L324.7,740.9 Q321,739.5 321.2,736.5 L322,732 Q320,727 315.9,725 L309,722.4 Q307.5,719.5 307.9,715.3 Z"/>
</g>
<g class="t" style="stroke-width:0.85">
<path d="M307.9,718 Q308,721 310,723.5 M322,734 Q322,738 325,742.5 L334,744.5 L347.6,750 Q355,753.5 362,753.6 Q372,754 378,751.8 L413,724.7 Q415,722.5 414.7,719.5"/>
<path d="M336.2,715.7 C336.2,707 347,701.2 360.5,701.2 C374,701.2 384.7,707 384.7,715.7 C384.7,724.5 374,730.3 360.5,730.3 C347,730.3 336.2,724.5 336.2,715.7 Z"/>
<path d="M336.3,717.5 C337,726.5 348,732.2 360.5,732.2 C373,732.2 384,726.5 384.6,717.5"/>
<ellipse cx="345.9" cy="711.8" rx="5.3" ry="3.2" style="stroke-width:1.15"/>
<ellipse cx="372.3" cy="711.4" rx="5.3" ry="3.2" style="stroke-width:1.15"/>
<ellipse cx="354.7" cy="721.5" rx="5.3" ry="3.2" style="stroke-width:1.15"/>
<ellipse cx="371.5" cy="720.2" rx="5.3" ry="3.2" style="stroke-width:1.15"/>
<ellipse cx="359.1" cy="692.4" rx="3.2" ry="2"/><path d="M356.5,692.2 Q359.1,695.4 361.7,692.2" style="stroke-width:1.3"/>
<ellipse cx="315" cy="716.7" rx="3.2" ry="2"/><path d="M312.4,716.5 Q315.0,719.7 317.6,716.5" style="stroke-width:1.3"/>
<ellipse cx="405.9" cy="717.1" rx="3.2" ry="2"/><path d="M403.3,716.9 Q405.9,720.1 408.5,716.9" style="stroke-width:1.3"/>
<ellipse cx="402" cy="711.4" rx="2.8" ry="1.8"/><path d="M399.8,711.2 Q402.0,714.1 404.2,711.2" style="stroke-width:1.3"/>
<ellipse cx="361.8" cy="743.2" rx="3.2" ry="2"/><path d="M359.2,743.0 Q361.8,746.2 364.4,743.0" style="stroke-width:1.3"/>
<ellipse cx="371.5" cy="742.6" rx="2.8" ry="1.8"/><path d="M369.3,742.4 Q371.5,745.3 373.7,742.4" style="stroke-width:1.3"/>
<ellipse cx="330.9" cy="737.9" rx="3.2" ry="2"/><path d="M328.3,737.7 Q330.9,740.9 333.5,737.7" style="stroke-width:1.3"/>
</g>
<g class="o" style="stroke-width:1">
<path d="M355.6,707 L355.6,714.5 Q359.5,717 363.5,714.5 L363.5,707"/>
<ellipse cx="359.5" cy="707" rx="3.9" ry="1.7"/><path d="M356.4,706.8 Q359.5,709.5 362.6,706.8" style="stroke-width:1.3"/>
</g>
<!-- 93 cover -->
<g class="o">
<path d="M308,795.6 Q308.5,793 310.6,792 L353,771.5 L356.5,770.5 L363.5,770.5 L391.8,779.7 L410,795.5 Q412.5,798 411.2,803.5 L374.1,829.1 Q370,832.5 365.3,832.6 Q360,832.5 355,830.5 L323,822.9 Q321,821.5 319.5,819 L308.3,800 Q307.5,797.5 308,795.6 Z"/>
</g>
<g class="t" style="stroke-width:0.85">
<path d="M308.3,798.5 Q309,800.5 310,802 L321,821.5 L355,832.5 Q360,834.5 365.3,834.6 Q370,834.5 374.1,831.1 L411,805.5 Q412,804 412,801"/>
<ellipse cx="360" cy="799.1" rx="35.3" ry="19.4"/>
<ellipse cx="360" cy="800.9" rx="30.9" ry="15.9"/>
<ellipse cx="360" cy="801.8" rx="5.3" ry="3" style="stroke-width:1.2"/>
<path d="M355,801.5 Q360,804 365,801.5"/>
<ellipse cx="360" cy="774.5" rx="3.3" ry="2"/><path d="M357.4,774.3 Q360.0,777.5 362.6,774.3" style="stroke-width:1.3"/>
<ellipse cx="315" cy="795.75" rx="3.3" ry="2"/><path d="M312.4,795.5 Q315.0,798.8 317.6,795.5" style="stroke-width:1.3"/>
<ellipse cx="401.75" cy="793.75" rx="3.3" ry="2"/><path d="M399.1,793.5 Q401.8,796.8 404.4,793.5" style="stroke-width:1.3"/>
<ellipse cx="405" cy="799.5" rx="3.3" ry="2"/><path d="M402.4,799.3 Q405.0,802.5 407.6,799.3" style="stroke-width:1.3"/>
<ellipse cx="328.75" cy="817" rx="3.3" ry="2"/><path d="M326.1,816.8 Q328.8,820.0 331.4,816.8" style="stroke-width:1.3"/>
<ellipse cx="360" cy="824.5" rx="3.3" ry="2"/><path d="M357.4,824.3 Q360.0,827.5 362.6,824.3" style="stroke-width:1.3"/>
</g>
<!-- 95 screw -->
<g class="o">
<path d="M401.8,833.5 L401.8,818.5 Q405.3,816 408.8,818.5 L408.8,833.5"/>
<path d="M399.4,836 C399.4,833.3 402.5,832.5 405.6,832.5 C408.8,832.5 411.9,833.3 411.9,836 L411.9,840 C411.9,842.5 408.8,843.5 405.6,843.5 C402.5,843.5 399.4,842.5 399.4,840 Z"/>
</g>
<g class="t">
<path d="M401.8,821.5 Q405.3,823 408.8,821.5 M401.8,824.5 Q405.3,826 408.8,824.5 M401.8,827.5 Q405.3,829 408.8,827.5 M401.8,830.5 Q405.3,832 408.8,830.5"/>
<path d="M399.6,837 C400,839 402.5,839.8 405.6,839.8 C408.8,839.8 411.5,839 411.8,837"/>
<path d="M401,838.5 L400.5,843 M403,839.3 L402.6,843.5"/>
</g>
<!-- 94 ring -->
<g class="o">
<path d="M324.4,858.5 C324.4,848.5 340.5,840.9 360,840.9 C379.5,840.9 395.7,848.5 395.7,858.5 L395.2,869 C395,879 379.5,886.5 360,886.5 C340.5,886.5 325.1,879 325.1,867.4 Z"/>
<ellipse cx="360.8" cy="863.3" rx="23.2" ry="10"/>
</g>
<g class="t">
<path d="M325,865 C327,873 342,879.1 359.7,879.1 C378,879.1 393,873 395.3,864"/>
<path d="M336.2,860.5 C337,851.5 347,846.8 360.5,846.8 C374,846.8 384,851 384.7,858.5"/>
</g>


<g class="lbl">
<text x="434.6" y="65.4">64</text>
<text x="434.6" y="105.8">65</text>
<text x="466.1" y="214.3">66</text>
<text x="413.2" y="291.2">67</text>
<text x="432.3" y="319.9">68</text>
<text x="460.5" y="317.8">69</text>
<text x="480.2" y="310.7">70</text>
<text x="493.1" y="420.7">71</text>
<text x="538.5" y="466.7">72</text>
<text x="511.0" y="451.2">73</text>
<text x="411.2" y="510.7">74</text>
<text x="396.7" y="502.8">75</text>
<text x="453.5" y="562.9">76</text>
<text x="204.5" y="381.1">77</text>
<text x="181.4" y="374.0">78</text>
<text x="232.8" y="408.0">79</text>
<text x="186.5" y="423.5">80</text>
<text x="158.4" y="433.0">81</text>
<text x="99.1" y="453.5">82</text>
<text x="174.3" y="495.5">83</text>
<text x="190.8" y="505.5">84</text>
<text x="154.1" y="515.6">85</text>
<text x="135.8" y="526.2">86</text>
<text x="86.9" y="554.5">87</text>
<text x="173.4" y="602.1">88</text>
<text x="218.4" y="575.7">89</text>
<text x="235.6" y="566.4">90</text>
<text x="295.4" y="526.5">91</text>
<text x="453.0" y="688.5">92</text>
<text x="434.0" y="823.8">93</text>
<text x="434.0" y="903.8">94</text>
<text x="434.0" y="858.0">95</text>
<text x="599.1" y="480.1">63</text>
</g>
</svg></body></html>
